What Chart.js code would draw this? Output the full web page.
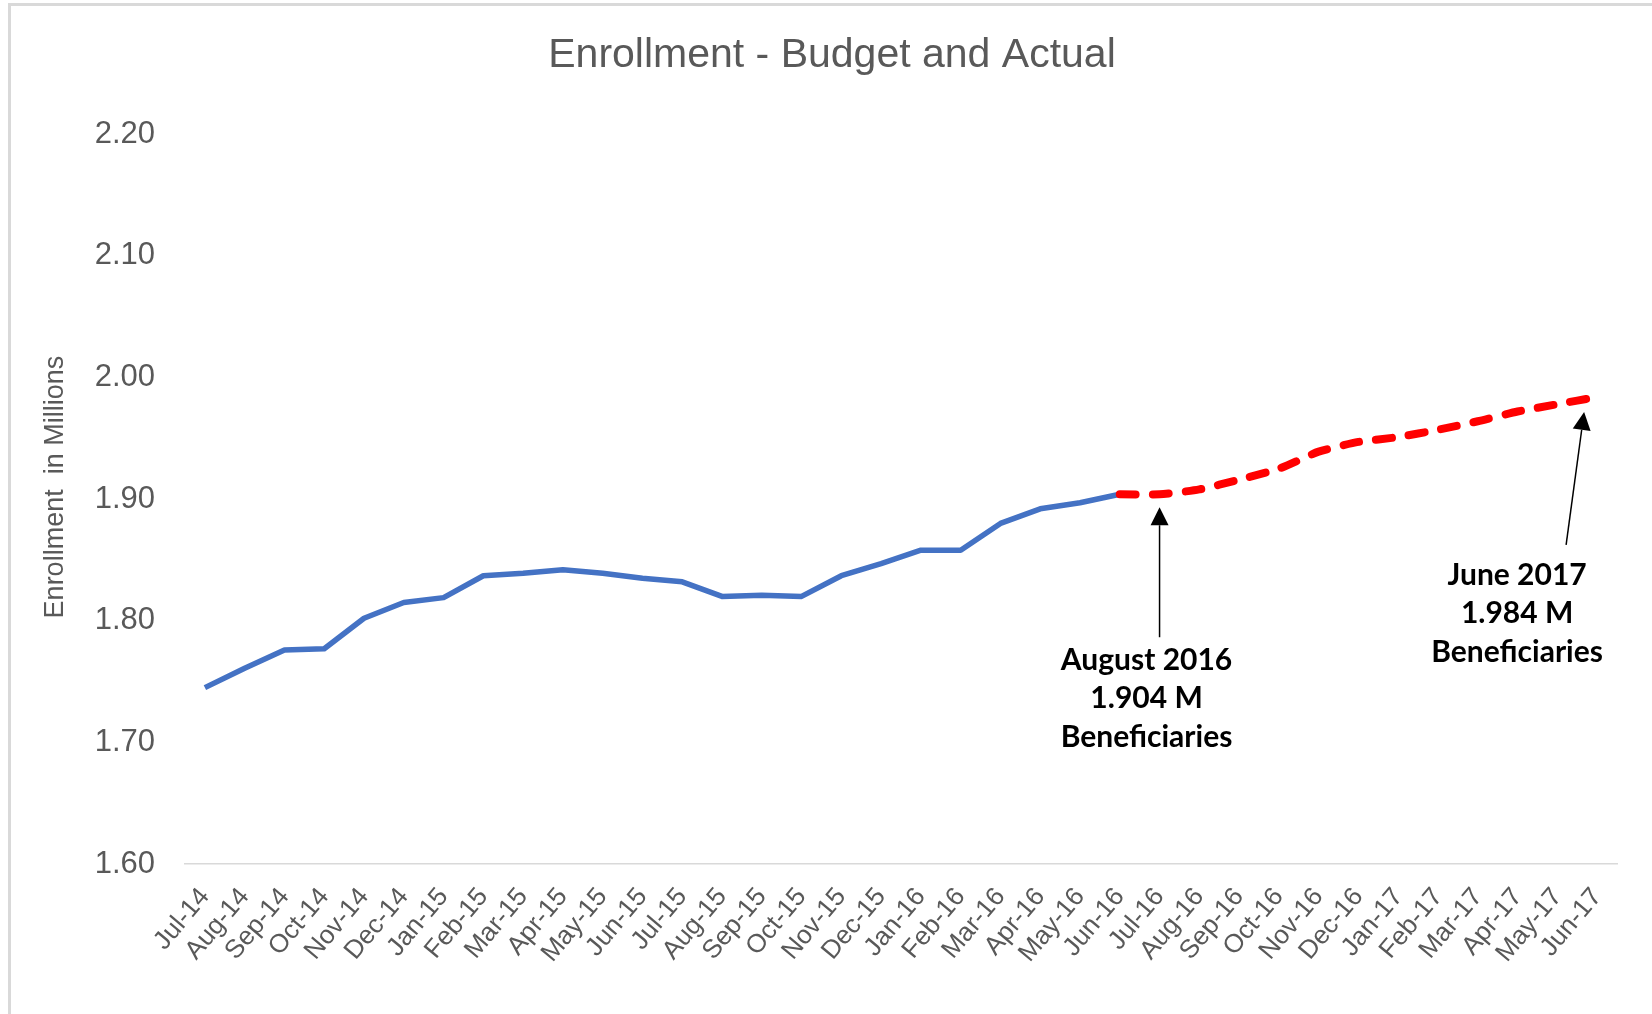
<!DOCTYPE html>
<html lang="en">
<head>
<meta charset="utf-8">
<title>Enrollment - Budget and Actual</title>
<script src="https://cdn.jsdelivr.net/npm/chart.js@4.4.1/dist/chart.umd.min.js"></script>
<style>
  html, body { margin: 0; padding: 0; background: #ffffff; overflow: hidden; }
  .marco { position: absolute; left: 8px; top: 3px; width: 1700px; height: 1100px; border: 3px solid #d9d9d9; }
  #enrollmentChart { position: absolute; left: 0; top: 0; }
</style>
</head>
<body>
<div class="marco"></div>
<canvas id="enrollmentChart" width="1652" height="1014"></canvas>
<script>
// Meses del eje X (año fiscal jul-14 a jun-17)
const months = [
  'Jul-14', 'Aug-14', 'Sep-14', 'Oct-14', 'Nov-14', 'Dec-14',
  'Jan-15', 'Feb-15', 'Mar-15', 'Apr-15', 'May-15', 'Jun-15',
  'Jul-15', 'Aug-15', 'Sep-15', 'Oct-15', 'Nov-15', 'Dec-15',
  'Jan-16', 'Feb-16', 'Mar-16', 'Apr-16', 'May-16', 'Jun-16',
  'Jul-16', 'Aug-16', 'Sep-16', 'Oct-16', 'Nov-16', 'Dec-16',
  'Jan-17', 'Feb-17', 'Mar-17', 'Apr-17', 'May-17', 'Jun-17'
];

// Inscripción real (millones), Jul-14 .. Jun-16
const actualValues = [
  1.745, 1.761, 1.776, 1.777, 1.802, 1.815,
  1.819, 1.837, 1.839, 1.842, 1.839, 1.835,
  1.832, 1.820, 1.821, 1.820, 1.837, 1.847,
  1.858, 1.858, 1.880, 1.892, 1.897, 1.904
];

// Presupuesto (millones), Jun-16 .. Jun-17
const budgetValues = [
  1.904, 1.904, 1.908, 1.916, 1.925, 1.939, 1.947,
  1.951, 1.957, 1.964, 1.972, 1.978, 1.984
];

// Valores del eje Y
const yMin = 1.6;
const yMax = 2.2;
const yStep = 0.1;

// Notas con flecha: mes señalado y texto
const notes = [
  { month: 'Jul-16', lines: ['August 2016', '1.904 M', 'Beneficiaries'] },
  { month: 'Jun-17', lines: ['June 2017', '1.984 M', 'Beneficiaries'] }
];

const yTitle = 'Enrollment  in Millions';

// Series completas alineadas con los meses
const actualSeries = months.map((m, i) => i < actualValues.length ? actualValues[i] : null);
const budgetStart = months.length - budgetValues.length;
const budgetSeries = months.map((m, i) => i >= budgetStart ? budgetValues[i - budgetStart] : null);

// Desplazamientos de flecha y texto respecto al punto señalado (px)
const notePlacement = [
  { tip: [0, 13], tail: [0, 143], text: [-13, 166] },
  { tip: [-13, 15], tail: [-31, 148], text: [-80, 178] }
];

const textColor = '#595959';
const fontFamily = '"Liberation Sans", Arial, sans-serif';

// Título vertical del eje Y (algo por encima del centro del área)
const yAxisTitle = {
  id: 'yAxisTitle',
  afterDraw(chart) {
    const { ctx, chartArea } = chart;
    ctx.save();
    ctx.translate(56, (chartArea.top + chartArea.bottom) / 2 - 12);
    ctx.rotate(-Math.PI / 2);
    ctx.font = '27px ' + fontFamily;
    ctx.fillStyle = textColor;
    ctx.textAlign = 'center';
    ctx.textBaseline = 'middle';
    ctx.fillText(yTitle, 0, 0);
    ctx.restore();
  }
};

// Plugin para dibujar las flechas y las notas
const arrowNotes = {
  id: 'arrowNotes',
  afterDatasetsDraw(chart) {
    const { ctx, scales: { x, y } } = chart;
    notes.forEach((note, i) => {
      const place = notePlacement[i];
      const idx = months.indexOf(note.month);
      const px = x.getPixelForValue(idx);
      const py = y.getPixelForValue(budgetSeries[idx]);

      const tipX = px + place.tip[0], tipY = py + place.tip[1];
      const tailX = px + place.tail[0], tailY = py + place.tail[1];
      const ang = Math.atan2(tipY - tailY, tipX - tailX);
      const headLen = 18, headW = 9;
      const baseX = tipX - headLen * Math.cos(ang);
      const baseY = tipY - headLen * Math.sin(ang);

      ctx.save();
      ctx.strokeStyle = '#000000';
      ctx.fillStyle = '#000000';
      ctx.lineWidth = 1.5;
      ctx.beginPath();
      ctx.moveTo(tailX, tailY);
      ctx.lineTo(baseX, baseY);
      ctx.stroke();

      ctx.beginPath();
      ctx.moveTo(tipX, tipY);
      ctx.lineTo(baseX + headW * Math.sin(ang), baseY - headW * Math.cos(ang));
      ctx.lineTo(baseX - headW * Math.sin(ang), baseY + headW * Math.cos(ang));
      ctx.closePath();
      ctx.fill();

      ctx.font = 'bold 30px Lato, "Open Sans", sans-serif';
      ctx.textAlign = 'center';
      ctx.textBaseline = 'middle';
      note.lines.forEach((line, k) => {
        ctx.fillText(line, px + place.text[0], py + place.text[1] + k * 38.5);
      });
      ctx.restore();
    });
  }
};

function initializeChart() {
  try {
    const canvas = document.getElementById('enrollmentChart');
    if (!canvas) {
      console.error('No se encontró el canvas');
      return null;
    }
    const ctx = canvas.getContext('2d');

    Chart.defaults.font.family = fontFamily;
    Chart.defaults.color = textColor;

    const chart = new Chart(ctx, {
      type: 'line',
      data: {
        labels: months,
        datasets: [
          {
            label: 'Budget',
            data: budgetSeries,
            borderColor: '#ff0000',
            borderWidth: 8,
            borderDash: [16, 17],
            borderCapStyle: 'round',
            tension: 0.2,
            pointRadius: 0,
            fill: false,
            spanGaps: false
          },
          {
            label: 'Actual',
            data: actualSeries,
            borderColor: '#4472c4',
            borderWidth: 5.5,
            borderJoinStyle: 'round',
            tension: 0,
            pointRadius: 0,
            fill: false,
            spanGaps: false
          }
        ]
      },
      options: {
        responsive: false,
        animation: false,
        devicePixelRatio: 1,
        layout: {
          padding: { left: 12, right: 0, top: 0, bottom: 0 }
        },
        plugins: {
          legend: { display: false },
          tooltip: { enabled: false },
          title: {
            display: true,
            text: 'Enrollment - Budget and Actual',
            color: textColor,
            font: { size: 41, weight: 'normal', lineHeight: 1.2 },
            padding: { top: 31, bottom: 54 }
          }
        },
        scales: {
          x: {
            offset: true,
            grid: { display: false, drawTicks: false },
            border: { display: true, color: '#d9d9d9', width: 1.5 },
            ticks: {
              autoSkip: false,
              minRotation: 50,
              maxRotation: 50,
              padding: 18,
              color: textColor,
              font: { size: 26 }
            },
            afterFit: function(scale) {
              scale.height = 150;
            }
          },
          y: {
            min: yMin,
            max: yMax,
            grid: { display: false, drawTicks: false },
            border: { display: false },
            ticks: {
              stepSize: yStep,
              padding: 30,
              color: textColor,
              font: { size: 31 },
              callback: function(value) {
                return Number(value).toFixed(2);
              }
            },
            afterFit: function(scale) {
              scale.width = 173;
            }
          },
          // Eje derecho vacío, solo reserva el margen
          yRight: {
            position: 'right',
            grid: { display: false },
            border: { display: false },
            ticks: { display: false },
            afterFit: function(scale) {
              scale.width = 35;
            }
          }
        }
      },
      plugins: [arrowNotes, yAxisTitle]
    });

    return chart;
  } catch (error) {
    console.error('Error al inicializar el gráfico:', error);
    return null;
  }
}

initializeChart();
</script>
</body>
</html>
